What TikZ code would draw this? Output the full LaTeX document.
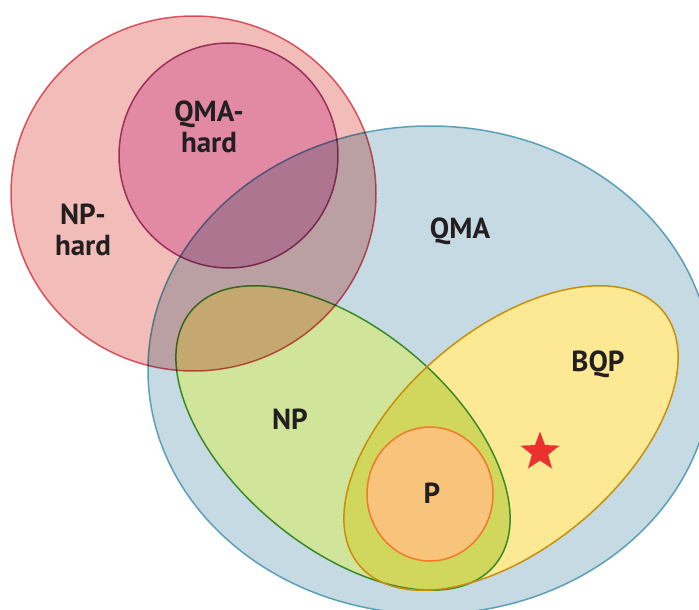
\documentclass[tikz,border=0pt]{standalone}
\usepackage{fontspec}
\setmainfont{PT Sans}
\usetikzlibrary{shapes.geometric}
\definecolor{qmafill}{HTML}{C5DAE3}
\definecolor{qmaline}{HTML}{5AA0B8}
\definecolor{npfill}{HTML}{D0E49A}
\definecolor{npline}{HTML}{3A8A2A}
\definecolor{bqpfill}{HTML}{FDE993}
\definecolor{bqpline}{HTML}{C8900A}
\definecolor{lensfill}{HTML}{D1D65C}
\definecolor{pfill}{HTML}{F8C47C}
\definecolor{pline}{HTML}{F07A2A}
\definecolor{nphfill}{HTML}{F2BCB8}
\definecolor{nphline}{HTML}{E06070}
\definecolor{qmahfill}{HTML}{EFBBE2}
\definecolor{qmahline}{HTML}{AA4F85}
\definecolor{labtext}{HTML}{231F20}
\definecolor{starred}{HTML}{EC3030}
\begin{document}
\begin{tikzpicture}[x=1pt,y=-1pt,
  lab/.style={font=\bfseries\fontsize{29}{31}\selectfont, text=labtext, align=center, inner sep=0pt},
  setline/.style={line width=1.5pt}]
\useasboundingbox (0,0) rectangle (699,610);
\clip (0,0) rectangle (699,610);
\fill[white] (0,0) rectangle (699,610);
% QMA
\filldraw[setline, fill=qmafill, draw=qmaline] (430,370) ellipse [x radius=282, y radius=244];
% NP and BQP fills
\fill[npfill, rotate around={-40:(343,438)}] (343,438) ellipse [x radius=198, y radius=109];
\fill[bqpfill, rotate around={40:(511,438)}] (511,438) ellipse [x radius=198, y radius=109];
\begin{scope}
  \clip[rotate around={-40:(343,438)}] (343,438) ellipse [x radius=198, y radius=109];
  \fill[lensfill, rotate around={40:(511,438)}] (511,438) ellipse [x radius=198, y radius=109];
\end{scope}
\draw[setline, npline, rotate around={-40:(343,438)}] (343,438) ellipse [x radius=198, y radius=109];
\draw[setline, bqpline, rotate around={40:(511,438)}] (511,438) ellipse [x radius=198, y radius=109];
% P
\filldraw[setline, fill=pfill, draw=pline] (430,494) ellipse [x radius=63, y radius=67];
% NP-hard and QMA-hard (multiplied over the rest)
\filldraw[setline, fill=nphfill, draw=nphline, blend mode=multiply] (193.5,193.5) ellipse [x radius=182.5, y radius=177.5];
\filldraw[setline, fill=qmahfill, draw=qmahline, blend mode=multiply] (228.5,155.5) ellipse [x radius=109.5, y radius=112.5];
% star
\node[star, star points=5, star point ratio=2.4, fill=starred, minimum size=41pt, inner sep=0pt] (star) at (540,452) {};
% labels
\node[lab] (qmahard) at (209,127) {QMA-\\hard};
\node[lab] (nphard) at (83,230) {NP-\\hard};
\node[lab] (qma) at (460,231) {QMA};
\node[lab] (bqp) at (598,364) {BQP};
\node[lab] (np) at (290,419) {NP};
\node[lab] (p) at (432,493) {P};
\end{tikzpicture}
\end{document}
